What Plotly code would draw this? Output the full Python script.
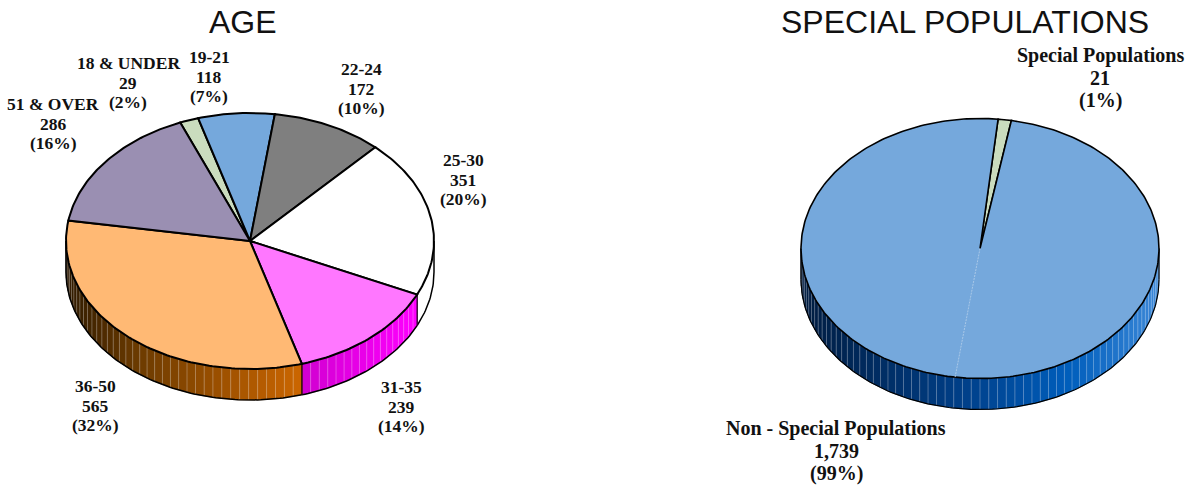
import math
import plotly.graph_objects as go

# ---------- data ----------
age_names = ["18 & UNDER", "19-21", "22-24", "25-30", "31-35", "36-50", "51 & OVER"]
age_values = [29, 118, 172, 351, 239, 565, 286]
age_pcts = ["2%", "7%", "10%", "20%", "14%", "32%", "16%"]

special_names = ["Special Populations", "Non - Special Populations"]
special_values = [21, 1739]
special_pcts = ["1%", "99%"]

# ---------- style / layout ----------
W, H = 1194, 487
age_top = ["#CADCBE", "#75A8DC", "#7F7F7F", "#FFFFFF", "#FF77FF", "#FFB974", "#9A8FB2"]
age_wall = [None, None, None,
            [(0, "#FFFFFF"), (1, "#FFFFFF")],
            [(0, "#D000D0"), (1, "#FF00FF")],
            [(0, "#2E1A00"), (0.3, "#6B3A00"), (1, "#CC6600")],
            None]
special_top = ["#CADCBE", "#75A8DC"]
special_wall = [None, [(0, "#001C40"), (0.45, "#003F88"), (0.75, "#005EBC"), (1, "#3C88D8")]]

AGE_GEOM = dict(cx=250, cy=241, rx=184, ry=128, depth=31, start=-22.3, lw=2)
SPECIAL_GEOM = dict(cx=980, cy=248.5, rx=179, ry=130, depth=31, start=5.8, lw=1.6)
STRIP_DEG = 2.8
SEAM_DEG = 188.0

age_label_pos = [(128, 63), (209, 57), (361, 69), (463, 160), (401, 387), (95, 386), (53, 104)]
special_label_pos = [(1100, 55), (836, 428)]
AGE_FONT, AGE_LEAD = 17.5, 19.7
SPECIAL_FONT, SPECIAL_LEAD = 20, 22.7


def hex2rgb(h):
    return [int(h[i:i + 2], 16) for i in (1, 3, 5)]


def ramp(stops, f):
    f = max(0.0, min(1.0, f))
    for (a, ca), (b, cb) in zip(stops, stops[1:]):
        if f <= b:
            k = (f - a) / (b - a)
            c = [round(p + (q - p) * k) for p, q in zip(hex2rgb(ca), hex2rgb(cb))]
            return "rgb(%d,%d,%d)" % tuple(c)
    return stops[-1][1]


def pt(g, deg, drop=0.0):
    t = math.radians(deg)
    return g["cx"] + g["rx"] * math.sin(t), g["cy"] - g["ry"] * math.cos(t) + drop


def arc(g, a, b, drop=0.0, step=1.0):
    n = max(2, int(abs(b - a) / step) + 1)
    pts = [pt(g, a + (b - a) * i / (n - 1), drop) for i in range(n)]
    return [p[0] for p in pts], [p[1] for p in pts]


def add_poly(fig, xs, ys, fill=None, color="black", width=1.0, dash=None):
    fig.add_trace(go.Scatter(
        x=xs, y=ys, mode="lines", hoverinfo="skip", showlegend=False,
        fill="toself" if fill else "none", fillcolor=fill,
        line=dict(color=color, width=width, dash=dash)))


def draw_pie(fig, g, values, tops, walls):
    total = sum(values)
    edges = [g["start"]]
    for v in values:
        edges.append(edges[-1] + v / total * 360)
    d = g["depth"]
    for i, stops in enumerate(walls):
        a0, a1 = edges[i], edges[i + 1]
        lo, hi = max(a0, 90), min(a1, 270)
        if stops is None or lo >= hi:
            continue
        x0 = pt(g, lo)[0]
        x1 = pt(g, hi)[0]
        xmin, xmax = min(x0, x1), max(x0, x1)
        n = max(1, round((hi - lo) / STRIP_DEG))
        for k in range(n):
            sa = lo + (hi - lo) * k / n
            sb = lo + (hi - lo) * (k + 1) / n
            xt, yt = arc(g, sa, sb, 0, 0.7)
            xb, yb = arc(g, sb, sa, d, 0.7)
            xm = pt(g, (sa + sb) / 2)[0]
            col = ramp(stops, (xm - xmin) / (xmax - xmin))
            add_poly(fig, xt + xb + xt[:1], yt + yb + yt[:1], fill=col, color=col, width=0.5)
            if k and stops[0][1] != stops[-1][1]:
                xs, ys = pt(g, sa)
                add_poly(fig, [xs, xs], [ys, ys + d], color="rgba(255,255,255,0.28)", width=1)
        xb, yb = arc(g, lo, hi, d)
        add_poly(fig, xb, yb, color="black", width=g["lw"] * 0.75)
        for ang in (lo, hi):
            if ang not in (90, 270):
                xs, ys = pt(g, ang)
                add_poly(fig, [xs, xs], [ys, ys + d], color="black", width=1)
    for ang in (90, 270):
        xs, ys = pt(g, ang)
        add_poly(fig, [xs, xs], [ys, ys + d], color="black", width=g["lw"] * 0.75)
    for i, col in enumerate(tops):
        xa, ya = arc(g, edges[i], edges[i + 1])
        xs = [g["cx"]] + xa + [g["cx"]]
        ys = [g["cy"]] + ya + [g["cy"]]
        add_poly(fig, xs, ys, fill=col, color="black", width=g["lw"])
    return edges


fig = go.Figure()
draw_pie(fig, AGE_GEOM, age_values, age_top, age_wall)
draw_pie(fig, SPECIAL_GEOM, special_values, special_top, special_wall)
sx, sy = pt(SPECIAL_GEOM, SEAM_DEG)
add_poly(fig, [SPECIAL_GEOM["cx"], sx], [SPECIAL_GEOM["cy"], sy], color="#A9C8E8", width=1, dash="2px,1px")

ann = []


def label(x, y, text, size, fam, bold=True):
    ann.append(dict(x=x, y=y, xref="x", yref="y", text=("<b>%s</b>" % text) if bold else text,
                    showarrow=False, align="center", xanchor="center", yanchor="middle",
                    font=dict(family=fam, size=size, color="#111111")))


def block(names, values, pcts, pos, size, lead):
    for name, v, p, (x, y) in zip(names, values, pcts, pos):
        for j, line in enumerate((name, format(v, ","), "(%s)" % p)):
            label(x, y + j * lead, line, size, "Liberation Serif")


block(age_names, age_values, age_pcts, age_label_pos, AGE_FONT, AGE_LEAD)
block(special_names, special_values, special_pcts, special_label_pos, SPECIAL_FONT, SPECIAL_LEAD)
label(243, 22, "AGE", 32, "Liberation Sans", bold=False)
label(964.5, 22, "SPECIAL POPULATIONS", 32, "Liberation Sans", bold=False)

fig.update_layout(
    width=W, height=H, margin=dict(l=0, r=0, t=0, b=0),
    paper_bgcolor="white", plot_bgcolor="white", showlegend=False,
    xaxis=dict(range=[0, W], visible=False, fixedrange=True),
    yaxis=dict(range=[H, 0], visible=False, fixedrange=True),
    annotations=ann)
fig.write_html("out.html", config={"displayModeBar": False},
               post_script="document.body.style.margin='0';document.body.style.overflow='hidden';")
